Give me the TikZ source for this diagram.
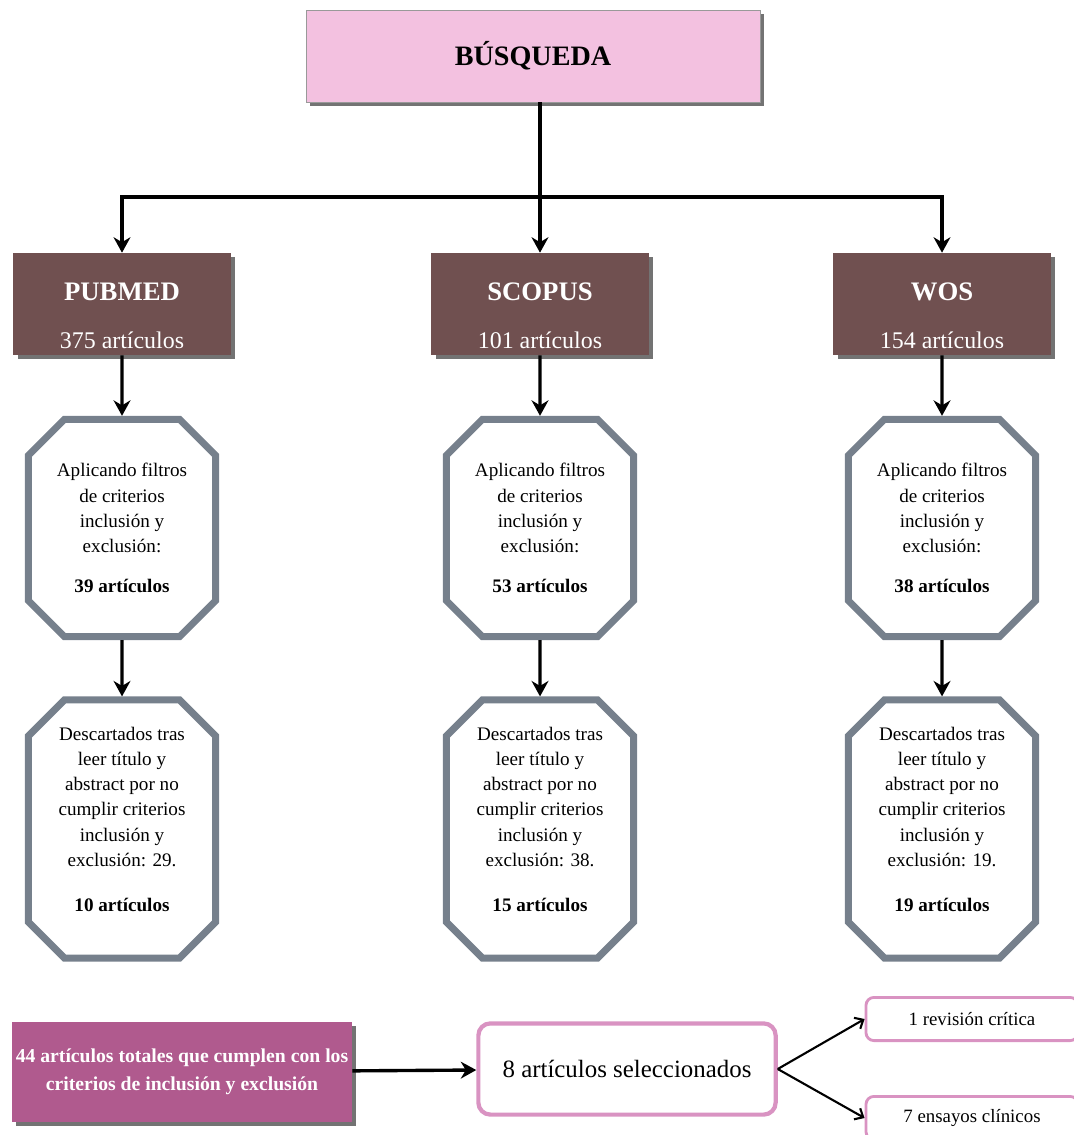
\documentclass[tikz,border=0pt]{standalone}
\usepackage{fontspec}
\setmainfont{Liberation Serif}
\usepackage{xcolor}
\usetikzlibrary{positioning, arrows.meta, shapes.misc, shadows}

\definecolor{searchpink}{RGB}{243,193,224}
\definecolor{dbbrown}{RGB}{112,80,80}
\definecolor{octgray}{RGB}{118,128,140}
\definecolor{totalpurple}{RGB}{176,90,142}
\definecolor{selpink}{RGB}{217,147,194}

\begin{document}
\begin{tikzpicture}[
    x=0.025cm, y=-0.025cm,
    boxshadow/.style={drop shadow={fill=black!55, opacity=1, shadow xshift=0.11cm, shadow yshift=-0.11cm}},
    search/.style={rectangle, draw=black!40, fill=searchpink, boxshadow, minimum width=11.35cm, minimum height=2.3cm, font=\fontsize{20}{24}\selectfont\bfseries},
    database/.style={rectangle, fill=dbbrown, boxshadow, minimum width=5.43cm, minimum height=2.55cm, text=white, align=center, font=\fontsize{17}{20}\selectfont},
    filterbox/.style={chamfered rectangle, chamfered rectangle xsep=0.45cm, chamfered rectangle ysep=0.45cm, draw=octgray, line width=5pt, fill=white, inner sep=0pt, minimum width=4.68cm, align=center, font=\fontsize{13.6}{18}\selectfont},
    total/.style={rectangle, fill=totalpurple, boxshadow, minimum width=8.5cm, minimum height=2.5cm, inner sep=1pt, text=white, align=center, font=\fontsize{14}{20}\selectfont\bfseries},
    selbox/.style={rectangle, rounded corners=0.3cm, draw=selpink, line width=3pt, fill=white, align=center},
    arrow/.style={-{Stealth[length=11pt, width=12pt]}, line width=2.4pt},
    thinarrow/.style={-{Straight Barb[length=5pt, width=9pt]}, line width=1.5pt}
]
    \useasboundingbox (0,0) rectangle (1073,1135);

    % Search
    \node[search] (busq) at (533,56) {BÚSQUEDA};

    % Databases
    \node[database] (pubmed) at (122,304) {\rule{0pt}{29pt}\textbf{\fontsize{19}{22}\selectfont PUBMED}\\[14pt]375 artículos};
    \node[database] (scopus) at (540,304) {\rule{0pt}{29pt}\textbf{\fontsize{19}{22}\selectfont SCOPUS}\\[14pt]101 artículos};
    \node[database] (wos) at (942,304) {\rule{0pt}{29pt}\textbf{\fontsize{19}{22}\selectfont WOS}\\[14pt]154 artículos};

    % Filters
    \node[filterbox, minimum height=5.43cm] (filt1) at (122,528) {Aplicando filtros\\de criterios\\inclusión y\\exclusión:\\[10pt]\textbf{39 artículos}};
    \node[filterbox, minimum height=5.43cm] (filt2) at (540,528) {Aplicando filtros\\de criterios\\inclusión y\\exclusión:\\[10pt]\textbf{53 artículos}};
    \node[filterbox, minimum height=5.43cm] (filt3) at (942,528) {Aplicando filtros\\de criterios\\inclusión y\\exclusión:\\[10pt]\textbf{38 artículos}};

    % Discarded
    \node[filterbox, minimum height=6.45cm] (desc1) at (122,829) {Descartados tras\\leer título y\\abstract por no\\cumplir criterios\\inclusión y\\exclusión: 29.\\[14pt]\textbf{10 artículos}\rule[-14pt]{0pt}{0pt}};
    \node[filterbox, minimum height=6.45cm] (desc2) at (540,829) {Descartados tras\\leer título y\\abstract por no\\cumplir criterios\\inclusión y\\exclusión: 38.\\[14pt]\textbf{15 artículos}\rule[-14pt]{0pt}{0pt}};
    \node[filterbox, minimum height=6.45cm] (desc3) at (942,829) {Descartados tras\\leer título y\\abstract por no\\cumplir criterios\\inclusión y\\exclusión: 19.\\[14pt]\textbf{19 artículos}\rule[-14pt]{0pt}{0pt}};

    % Results
    \node[total] (total) at (182,1072) {44 artículos totales que cumplen con los\\criterios de inclusión y exclusión};
    \node[selbox, minimum width=7.43cm, minimum height=2.28cm, font=\fontsize{17.7}{21}\selectfont] (sel) at (627,1069) {8 artículos seleccionados};
    \node[selbox, rounded corners=0.2cm, line width=2pt, minimum width=5.3cm, minimum height=1.08cm, font=\fontsize{13.4}{16}\selectfont] (rev) at (972,1019) {1 revisión crítica};
    \node[selbox, rounded corners=0.2cm, line width=2pt, minimum width=5.3cm, minimum height=1.08cm, font=\fontsize{13.4}{16}\selectfont] (ens) at (972,1118) {7 ensayos clínicos};

    % Connectors
    \coordinate (split) at (540,197);
    \draw[line width=2.4pt] (busq.south -| split) -- (split);
    \draw[arrow] (split) -| (pubmed.north);
    \draw[arrow] (split) -- (scopus.north);
    \draw[arrow] (split) -| (wos.north);
    \draw[arrow] (pubmed) -- (filt1);
    \draw[arrow] (scopus) -- (filt2);
    \draw[arrow] (wos) -- (filt3);
    \draw[arrow] (filt1) -- (desc1);
    \draw[arrow] (filt2) -- (desc2);
    \draw[arrow] (filt3) -- (desc3);
    \draw[arrow] (total) -- (sel);
    \draw[thinarrow] (sel.east) -- (rev.west);
    \draw[thinarrow] (sel.east) -- (ens.west);
\end{tikzpicture}
\end{document}
